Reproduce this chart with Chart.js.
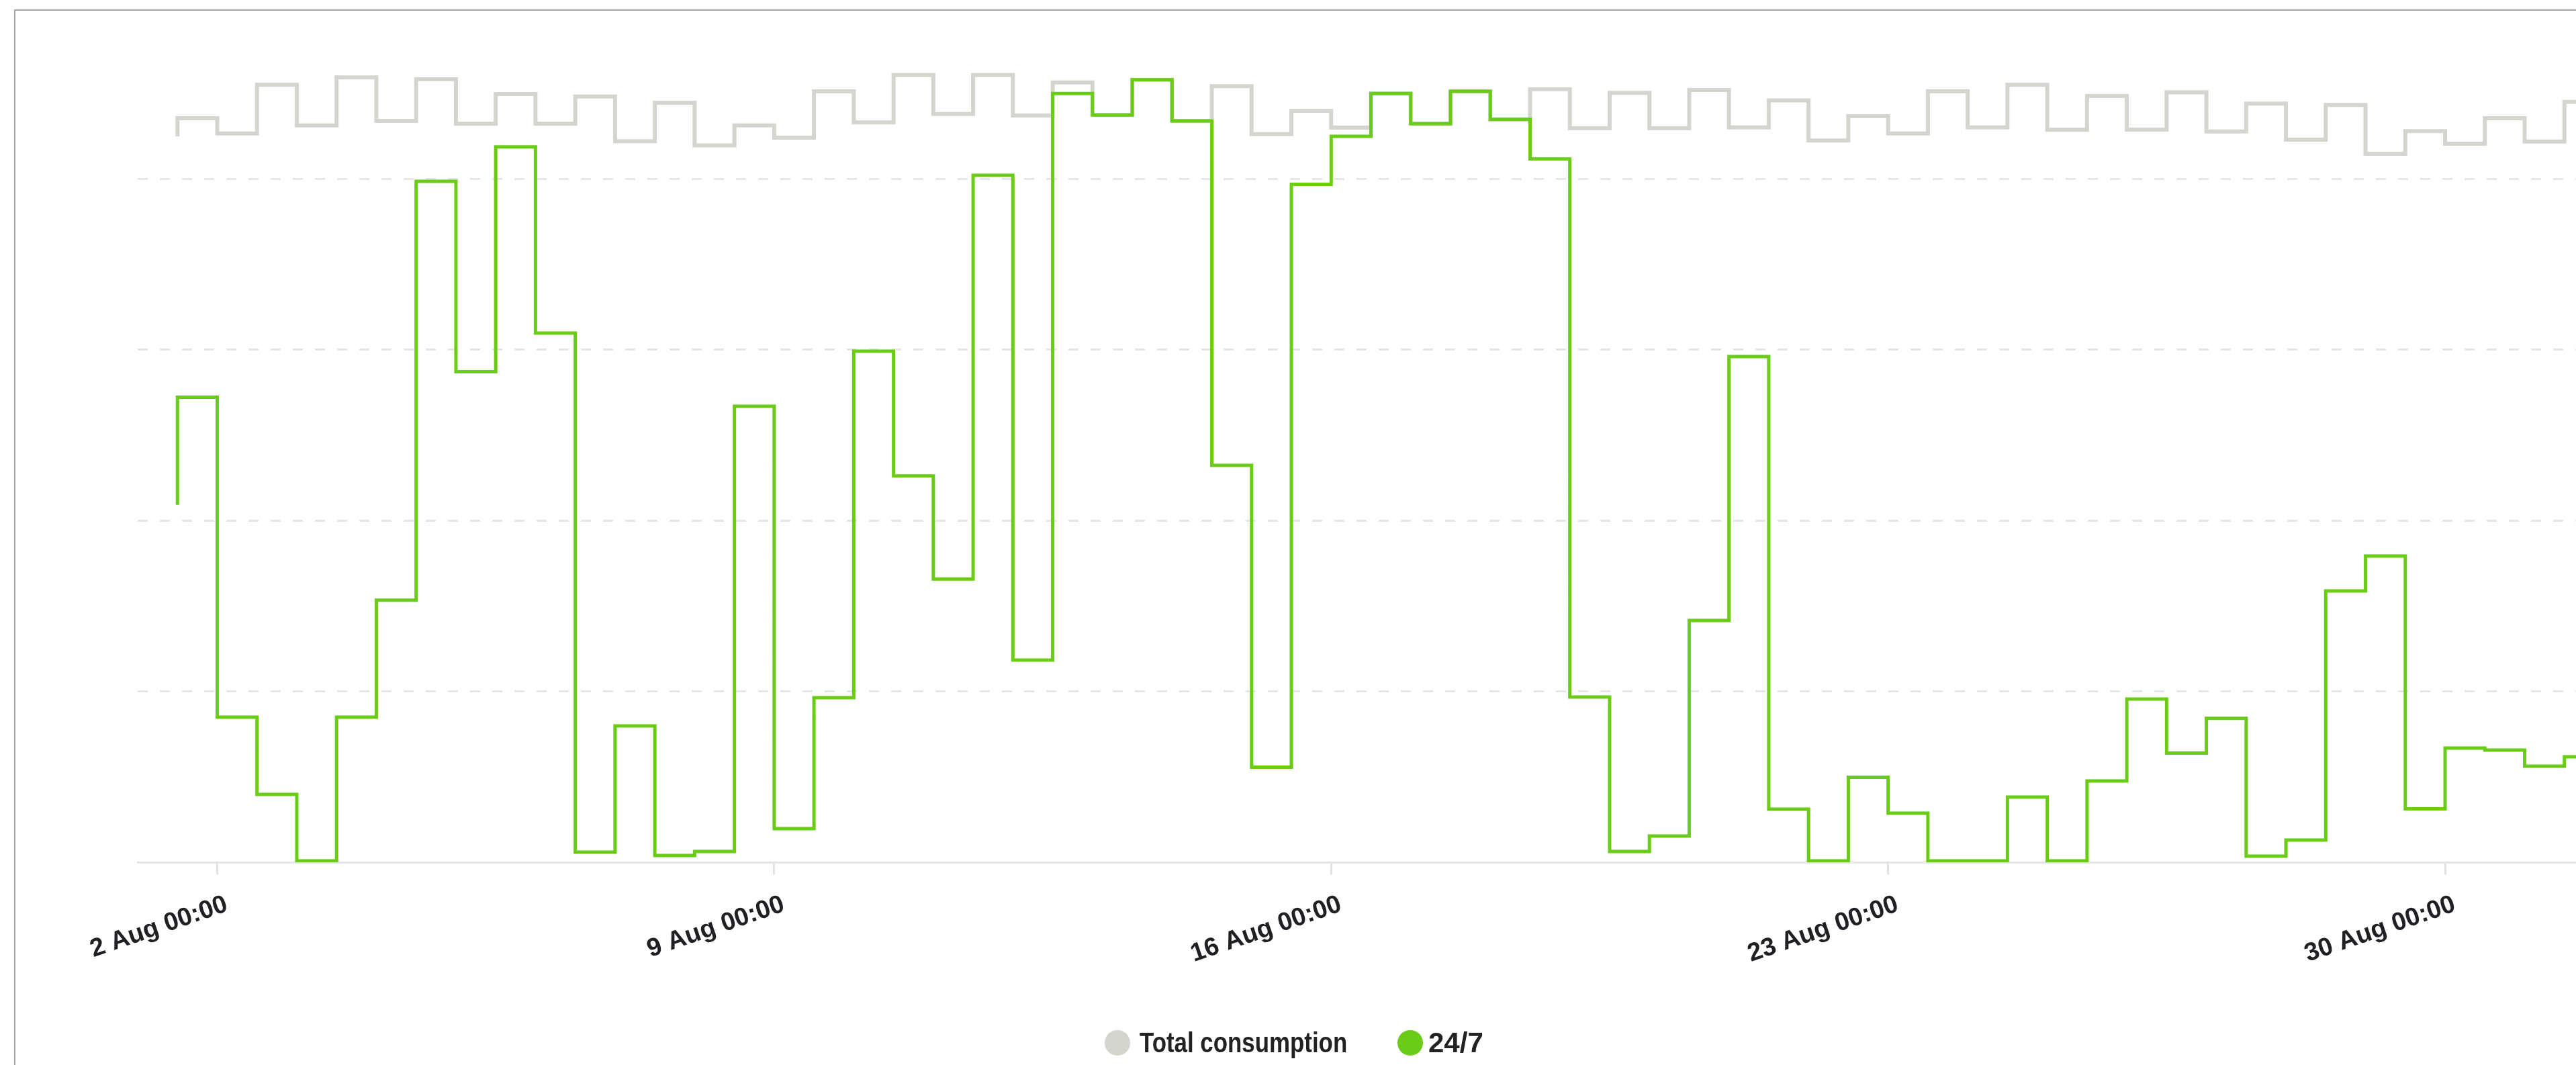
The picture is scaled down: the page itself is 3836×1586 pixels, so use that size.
<!DOCTYPE html>
<html lang="en">
<head>
<meta charset="UTF-8">
<title>Total consumption and 24/7</title>
<script src="https://cdn.jsdelivr.net/npm/chart.js"></script>
<style>
    html, body { margin: 0; padding: 0; background: #fff; overflow: hidden; }
    body { width: 3836px; height: 1586px; position: relative; }
    .frame {
        position: absolute; left: 21px; top: 14px;
        width: 3900px; height: 1700px;
        border-left: 2px solid #a6a6a6; border-top: 2px solid #a6a6a6;
    }
    #chart { position: absolute; left: 0; top: 0; }
    .dot { position: absolute; width: 38px; height: 38px; border-radius: 50%; top: 1534px; }
    .label {
        position: absolute; top: 1532px; line-height: 42px; white-space: nowrap;
        font-family: "Liberation Sans", Arial, sans-serif;
        font-weight: bold; font-size: 42px; color: #222;
        transform-origin: left center;
    }
</style>
</head>
<body>
<div class="frame">
    <canvas id="chart" width="3880" height="1570"></canvas>
</div>
<!-- legend -->
<span class="dot" style="left:1645px; background:#d5d5d0"></span>
<span class="label" style="left:1697px; transform: scaleX(0.83)">Total consumption</span>
<span class="dot" style="left:2081px; background:#6bcc17"></span>
<span class="label" style="left:2127px">24/7</span>
<script>
    // half-day steps, first point = 1 Aug 12:00 (day 1.5)
    const firstDay = 1.5;
    const stepDays = 0.5;

    const tickDays = [2, 9, 16, 23, 30];
    const tickLabels = ['2 Aug 00:00', '9 Aug 00:00', '16 Aug 00:00', '23 Aug 00:00', '30 Aug 00:00'];

    const totalConsumption = [
        424.8, 435.4, 426.5, 455.0, 431.2, 459.3, 433.8, 458.2, 432.2, 449.6,
        432.2, 448.1, 422.0, 444.5, 419.5, 431.2, 424.0, 451.1, 433.0, 460.7,
        437.9, 460.7, 437.0, 456.3, 437.3, 457.9, 433.8, 454.2, 426.1, 439.7,
        429.9, 449.9, 432.2, 451.1, 434.7, 452.3, 429.5, 450.2, 429.5, 451.9,
        430.0, 445.8, 422.4, 436.6, 426.5, 451.1, 430.0, 455.0, 428.6, 448.4,
        428.7, 450.5, 427.7, 444.0, 422.8, 443.2, 414.6, 427.9, 420.5, 435.4,
        421.8, 444.9
    ];
    const matched247 = [
        209.3, 272.2, 85.0, 39.9, 1, 85.0, 153.5, 398.5, 287.1, 418.6,
        309.7, 6.1, 79.9, 4.1, 6.5, 266.9, 19.8, 96.4, 299.1, 226.2,
        165.9, 402.0, 118.4, 449.9, 437.3, 457.9, 433.8, 232.3, 55.8, 396.7,
        424.8, 449.9, 432.2, 451.1, 434.7, 411.6, 96.8, 6.5, 15.5, 141.6,
        296.0, 31.2, 1, 49.9, 28.9, 1, 1, 38.3, 1, 47.7,
        95.6, 64.0, 84.4, 3.7, 13.2, 158.9, 179.3, 31.4, 67.0, 65.8,
        56.4, 61.9
    ];

    function toPoints(values) {
        return values.map((v, i) => ({ x: firstDay + i * stepDays, y: v }));
    }

    const ctx = document.getElementById('chart').getContext('2d');
    new Chart(ctx, {
        type: 'line',
        data: {
            datasets: [{
                label: '24/7',
                data: toPoints(matched247),
                borderColor: '#6bcc17',
                borderWidth: 5,
                stepped: 'after',
                pointRadius: 0,
                fill: false,
                order: 0
            }, {
                label: 'Total consumption',
                data: toPoints(totalConsumption),
                borderColor: '#d5d5d0',
                borderWidth: 6,
                stepped: 'after',
                pointRadius: 0,
                fill: false,
                order: 1
            }]
        },
        options: {
            responsive: false,
            animation: false,
            layout: { padding: { left: 182, right: 25, top: 46.5, bottom: 101.5 } },
            plugins: { legend: { display: false }, tooltip: { enabled: false } },
            scales: {
                x: {
                    type: 'linear',
                    min: 1,
                    max: 32,
                    afterBuildTicks: (scale) => { scale.ticks = tickDays.map(v => ({ value: v })); },
                    afterFit: (scale) => { scale.height = 200; },
                    grid: { drawOnChartArea: false, drawTicks: true, tickLength: 18, color: '#e2e2e2', lineWidth: 3 },
                    border: { display: true, color: '#e6e6e6', width: 3 },
                    ticks: {
                        autoSkip: false,
                        minRotation: 19,
                        maxRotation: 19,
                        padding: 22,
                        labelOffset: 14,
                        color: '#1f1f24',
                        font: { family: '"Liberation Sans", Arial, sans-serif', size: 38, weight: 'bold' },
                        callback: (value) => tickLabels[tickDays.indexOf(value)]
                    }
                },
                y: {
                    min: 0,
                    max: 480,
                    ticks: { display: false, stepSize: 100 },
                    grid: {
                        drawTicks: false,
                        lineWidth: 3,
                        color: (c) => (c.tick && c.tick.value > 0 && c.tick.value % 100 === 0) ? '#e6e6e6' : 'rgba(0,0,0,0)'
                    },
                    border: { display: false, dash: [15, 18] }
                }
            }
        }
    });
</script>
</body>
</html>
